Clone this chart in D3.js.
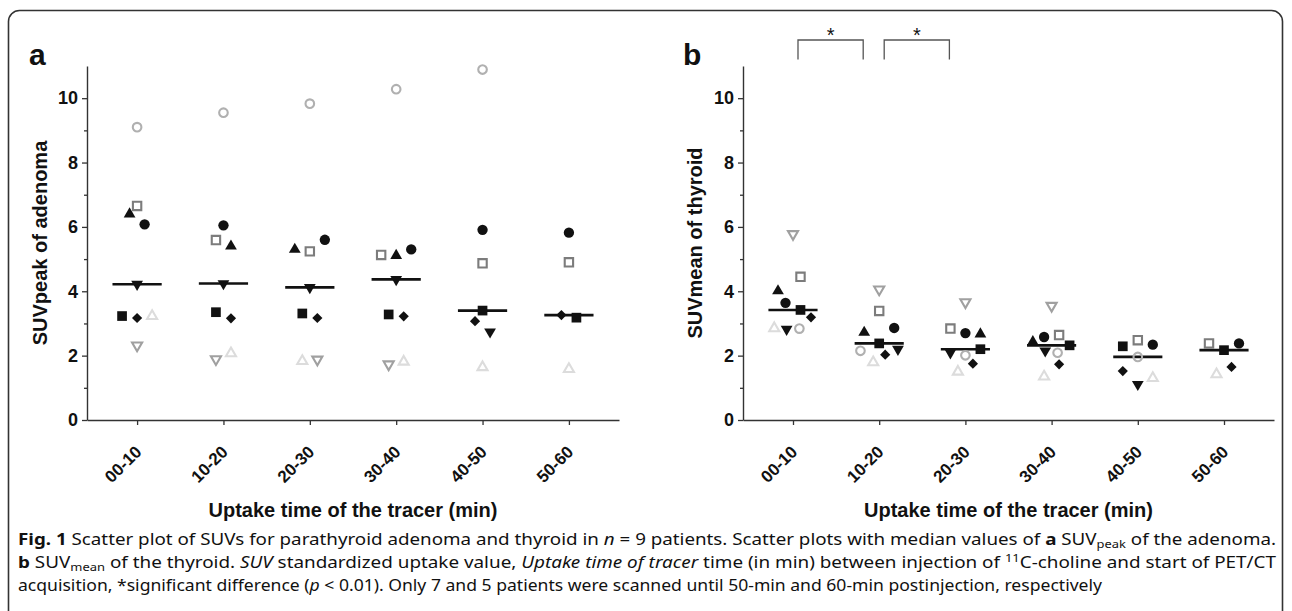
<!DOCTYPE html>
<html><head><meta charset="utf-8">
<script src="https://cdn.jsdelivr.net/npm/d3@7"></script>
<style>
body{margin:0;background:#fff;}
svg{display:block;}
</style></head><body>
<svg id="chart" width="1292" height="611"></svg>
<script>
// ---------------- DATA ----------------
const categories = ["00-10","10-20","20-30","30-40","40-50","50-60"];
const yTickValues = [0,2,4,6,8,10];
const yMinorTickValues = [1,3,5,7,9];

// Patients (one marker each):
// 0 filled circle, 1 open circle, 2 filled triangle up, 3 open triangle down,
// 4 open triangle up, 5 filled triangle down, 6 open square, 7 filled square, 8 filled diamond

// Panel a: SUVpeak of adenoma (per patient, per uptake-time category)
const peakP1 = [6.08, 6.05, 5.60, 5.30, 5.91, 5.82];
const peakP2 = [9.10, 9.55, 9.83, 10.28, 10.89, null];
const peakP3 = [6.40, 5.40, 5.30, 5.11, null, null];
const peakP4 = [2.32, 1.89, 1.88, 1.73, null, null];
const peakP5 = [3.23, 2.07, 1.83, 1.81, 1.64, 1.58];
const peakP6 = [4.22, 4.24, 4.12, 4.37, 2.74, null];
const peakP7 = [6.65, 5.59, 5.24, 5.13, 4.87, 4.90];
const peakP8 = [3.23, 3.35, 3.31, 3.28, 3.40, 3.18];
const peakP9 = [3.17, 3.16, 3.17, 3.22, 3.07, 3.26];

// Panel b: SUVmean of thyroid
const meanP1 = [3.64, 2.86, 2.70, 2.58, 2.34, 2.38];
const meanP2 = [2.84, 2.15, 2.01, 2.09, 1.96, null];
const meanP3 = [4.01, 2.72, 2.67, 2.43, null, null];
const meanP4 = [5.78, 4.06, 3.66, 3.55, null, null];
const meanP5 = [2.85, 1.79, 1.50, 1.35, 1.30, 1.42];
const meanP6 = [2.82, 2.20, 2.09, 2.15, 1.11, null];
const meanP7 = [4.45, 3.39, 2.84, 2.64, 2.48, 2.38];
const meanP8 = [3.42, 2.38, 2.20, 2.32, 2.29, 2.17];
const meanP9 = [3.19, 2.03, 1.75, 1.73, 1.52, 1.65];

// Lateral scatter slots (column-scatter spreading, in slot units)
const peakSlots = [
  [ 1, 0, 2, 2, 0, 0],
  [ 0, 0, 0, 0, 0, 0],
  [-1, 1,-2, 0, 0, 0],
  [ 0,-1, 1,-1, 0, 0],
  [ 2, 1,-1, 1, 0, 0],
  [ 0, 0, 0, 0, 1, 0],
  [ 0,-1, 0,-2, 0, 0],
  [-2,-1,-1,-1, 0, 1],
  [ 0, 1, 1, 1,-1,-1]
];
const meanSlots = [
  [-1,   2,   0,  -1,    2,  2],
  [0.85,-2.5, 0,   0.8,  0,  0],
  [-2,  -2,   2,  -2.5,  0,  0],
  [ 0,   0,   0,   0,    0,  0],
  [-2.5,-0.8,-1,  -1,    2, -1],
  [-0.85,2.5,-2,  -0.85, 0,  0],
  [ 1,   0,  -2,   1,    0, -2],
  [ 1,   0,   2,   2.4, -2,  0],
  [ 2.4, 0.8, 1,   1,   -2,  1]
];

const significantPairs = [["00-10","10-20"],["10-20","20-30"]];

const captionLines = [
  [["Fig. 1","b"],[" Scatter plot of SUVs for parathyroid adenoma and thyroid in ",""],["n","i"],[" = 9 patients. Scatter plots with median values of ",""],["a","b"],[" SUV",""],["peak","sub"],[" of the adenoma.",""]],
  [["b","b"],[" SUV",""],["mean","sub"],[" of the thyroid. ",""],["SUV","i"],[" standardized uptake value, ",""],["Uptake time of tracer","i"],[" time (in min) between injection of ",""],["11","sup"],["C-choline and start of PET/CT",""]],
  [["acquisition, *significant difference (",""],["p","i"],[" < 0.01). Only 7 and 5 patients were scanned until 50-min and 60-min postinjection, respectively",""]]
];

// ---------------- DRAWING ----------------
const svg = d3.select("#chart");
const FONT = "'Liberation Sans', Arial, Helvetica, sans-serif";

// frame
svg.append("rect").attr("x",8.5).attr("y",10.5).attr("width",1274).attr("height",660)
  .attr("rx",11).attr("fill","none").attr("stroke","#333").attr("stroke-width",1.6);

const markerStyles = [
  {type:"circle", fill:"#111"},
  {type:"circle", stroke:"#b0b0b0"},
  {type:"triUp", fill:"#111"},
  {type:"triDown", stroke:"#a0a0a0"},
  {type:"triUp", stroke:"#dcdcdc"},
  {type:"triDown", fill:"#111"},
  {type:"square", stroke:"#7c7c7c"},
  {type:"square", fill:"#111"},
  {type:"diamond", fill:"#111"}
];
function markerPath(st){
  const open = !st.fill;
  if (st.type==="circle") return d3.symbol(d3.symbolCircle, open?58:84)();
  if (st.type==="triUp"||st.type==="triDown") return d3.symbol(d3.symbolTriangle, open?44:60)();
  if (st.type==="square") return d3.symbol(d3.symbolSquare, open?70:94)();
  return d3.symbol(d3.symbolSquare, 52)();
}
function markerRot(st){
  if (st.type==="triDown") return 180;
  if (st.type==="diamond") return 45;
  return 0;
}

const y = d3.scaleLinear().domain([0,11]).range([420,66]);

function drawPanel(cfg){
  const x = d3.scalePoint().domain(categories).range(cfg.xRange).padding(0.58);
  const step = x.step();
  const slotUnit = step*0.087;
  const g = svg.append("g");

  // y axis minor ticks
  g.append("g").attr("transform",`translate(${cfg.xRange[0]},0)`)
    .call(d3.axisLeft(y).tickValues(yMinorTickValues).tickSize(3).tickFormat(""))
    .call(s=>s.select(".domain").remove())
    .call(s=>s.selectAll("line").attr("stroke","#333").attr("stroke-width",1.3));
  // y axis major
  g.append("g").attr("transform",`translate(${cfg.xRange[0]},0)`)
    .call(d3.axisLeft(y).tickValues(yTickValues).tickSize(5).tickSizeOuter(0).tickPadding(4))
    .call(s=>s.select(".domain").attr("stroke","#333").attr("stroke-width",1.4))
    .call(s=>s.selectAll("line").attr("stroke","#333").attr("stroke-width",1.3))
    .call(s=>s.selectAll("text").attr("font-family",FONT).attr("font-weight","bold")
       .attr("font-size",18).attr("fill","#111"));
  // x axis
  g.append("g").attr("transform",`translate(0,${y(0)})`)
    .call(d3.axisBottom(x).tickSize(5).tickSizeOuter(0))
    .call(s=>s.select(".domain").attr("stroke","#333").attr("stroke-width",1.4))
    .call(s=>s.selectAll("line").attr("stroke","#333").attr("stroke-width",1.3))
    .call(s=>s.selectAll("text").attr("font-family",FONT).attr("font-weight","bold")
       .attr("font-size",17).attr("fill","#111")
       .attr("text-anchor","end").attr("dy",0).attr("y",0)
       .attr("transform","translate(5,33) rotate(-45)"));

  // axis titles
  g.append("text").attr("transform",`translate(${cfg.yTitleX},${(y(0)+y(11))/2}) rotate(-90)`)
    .attr("text-anchor","middle").attr("font-family",FONT).attr("font-weight","bold")
    .attr("font-size",20).attr("fill","#111").text(cfg.yTitle);
  g.append("text").attr("x",(cfg.xRange[0]+cfg.xRange[1])/2).attr("y",517)
    .attr("text-anchor","middle").attr("font-family",FONT).attr("font-weight","bold")
    .attr("font-size",20).attr("fill","#111").text("Uptake time of the tracer (min)");
  // panel label
  g.append("text").attr("x",cfg.labelX).attr("y",65).attr("font-family",FONT)
    .attr("font-weight","bold").attr("font-size",30).attr("fill","#111").text(cfg.label);

  // points
  const pts = [];
  cfg.series.forEach((vals,pi)=>{
    vals.forEach((v,ci)=>{
      if (v==null) return;
      pts.push({p:pi, c:categories[ci], v:v, slot:cfg.slots[pi][ci]});
    });
  });
  // median lines
  categories.forEach(c=>{
    const vs = pts.filter(d=>d.c===c).map(d=>d.v);
    const m = d3.median(vs);
    g.append("line").attr("x1",x(c)-step*0.285).attr("x2",x(c)+step*0.285)
      .attr("y1",y(m)).attr("y2",y(m)).attr("stroke","#111").attr("stroke-width",2.6);
  });
  g.selectAll("path.pt").data(pts).join("path").attr("class","pt")
    .attr("d",d=>markerPath(markerStyles[d.p]))
    .attr("transform",d=>`translate(${x(d.c)+d.slot*slotUnit},${y(d.v)}) rotate(${markerRot(markerStyles[d.p])})`)
    .attr("fill",d=>markerStyles[d.p].fill||"none")
    .attr("stroke",d=>markerStyles[d.p].stroke||"none")
    .attr("stroke-width",2.1);

  // significance brackets
  if (cfg.brackets){
    cfg.brackets.forEach(([a,b])=>{
      const x1 = x(a)+5, x2 = x(b)-16;
      const yt = 40, yb = 59.5;
      g.append("path").attr("d",`M${x1},${yb}V${yt}H${x2}V${yb}`)
        .attr("fill","none").attr("stroke","#555").attr("stroke-width",1.3);
      g.append("text").attr("x",(x1+x2)/2).attr("y",42).attr("text-anchor","middle")
        .attr("font-family",FONT).attr("font-size",20).attr("fill","#111").text("*");
    });
  }
}

drawPanel({
  xRange:[87,619], label:"a", labelX:29, yTitle:"SUVpeak of adenoma", yTitleX:47,
  series:[peakP1,peakP2,peakP3,peakP4,peakP5,peakP6,peakP7,peakP8,peakP9],
  slots:peakSlots
});
drawPanel({
  xRange:[743,1274], label:"b", labelX:683, yTitle:"SUVmean of thyroid", yTitleX:702,
  series:[meanP1,meanP2,meanP3,meanP4,meanP5,meanP6,meanP7,meanP8,meanP9],
  slots:meanSlots, brackets:significantPairs
});

// caption
const capY = [545, 568, 591];
const capLen = [1258, 1258, 1084];
captionLines.forEach((segs,i)=>{
  const t = svg.append("text").attr("x",18).attr("y",capY[i])
    .attr("font-family","'Noto Sans', 'Open Sans', sans-serif").attr("font-size",16)
    .attr("fill","#111").attr("textLength",capLen[i]).attr("lengthAdjust","spacingAndGlyphs");
  segs.forEach(([txt,st])=>{
    const ts = t.append("tspan").text(txt);
    if (st==="b") ts.attr("font-weight","bold");
    if (st==="i") ts.attr("font-style","italic");
    if (st==="sub") ts.attr("font-size",11).attr("baseline-shift","-25%");
    if (st==="sup") ts.attr("font-size",11).attr("baseline-shift","55%");
  });
});
</script>
</body></html>
